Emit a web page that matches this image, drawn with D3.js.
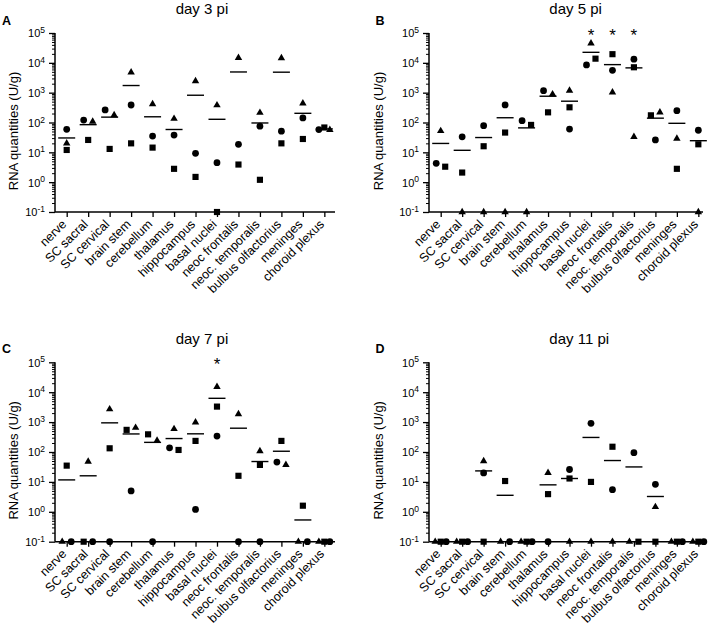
<!DOCTYPE html>
<html><head><meta charset="utf-8">
<script src="https://cdn.jsdelivr.net/npm/d3@7"></script>
<style>
body{margin:0;background:#fff}
svg{display:block}
text{font-family:"Liberation Sans", Arial, Helvetica, sans-serif; fill:#000}
</style>
</head><body>
<svg id="chart" width="710" height="632"></svg>
<script>
// ---------- data ----------
const categories = ["nerve","SC sacral","SC cervical","brain stem","cerebellum","thalamus","hippocampus","basal nuclei","neoc frontalis","neoc. temporalis","bulbus olfactorius","meninges","choroid plexus"];
const yTickExponents = [-1,0,1,2,3,4,5];

// values in U/g; 0 = below detection (drawn on the 10^-1 baseline)
const day3Circle   = [59,121,263,386,35,38,9.3,4.5,18.6,75,51,142,58];
const day3Square   = [12,26,13,20,14.4,2.8,1.5,0,3.9,1.2,20,28,68];
const day3Triangle = [20,107,178,4800,417,134,2450,380,14800,213,14500,440,57];

const day5Circle   = [4.3,33,78,387,115,1170,60,8500,5600,13200,26,250,55];
const day5Square   = [3.3,2.1,16,46,83,219,323,13800,19500,7100,174,2.8,18.6];
const day5Triangle = [52,0,0,0,0,890,1170,45200,1020,33,219,29,0];

const day7Circle   = [0,0,0,5,0,138,1.2,340,0,0,46,0,0];
const day7Square   = [35,0,133,550,390,117,235,3300,16,37,235,1.6,0];
const day7Triangle = [0,48,2700,650,240,590,980,15100,1860,107,37,0,0];

const day11Circle   = [0,0,20,0,0,0,26,910,5.5,95,8.3,0,0];
const day11Square   = [0,0,0,10.7,0,3.9,13,10,150,0,0,0,0];
const day11Triangle = [0,0,50,0,0,20,0,0,0,0,1.45,0,0];

const day3Significant  = [];
const day5Significant  = ["basal nuclei","neoc frontalis","neoc. temporalis"];
const day7Significant  = ["basal nuclei"];
const day11Significant = [];

const panelTitles  = ["day 3 pi","day 5 pi","day 7 pi","day 11 pi"];
const panelLetters = ["A","B","C","D"];
const yAxisTitle = "RNA quantities (U/g)";

// ---------- layout ----------
const svg = d3.select("#chart");
const FLOOR = 0.1;
const panels = [
  {title:panelTitles[0], letter:panelLetters[0], c:day3Circle,  s:day3Square,  t:day3Triangle,  sig:day3Significant,  x0:55,  w:280, top:33,    bottom:212,   titleX:175.7, titleY:13.5,  letterX:2,   letterY:25,  ylabX:17.5},
  {title:panelTitles[1], letter:panelLetters[1], c:day5Circle,  s:day5Square,  t:day5Triangle,  sig:day5Significant,  x0:429, w:274, top:33,    bottom:212,   titleX:549.3, titleY:13.5,  letterX:375.5, letterY:25, ylabX:382.5},
  {title:panelTitles[2], letter:panelLetters[2], c:day7Circle,  s:day7Square,  t:day7Triangle,  sig:day7Significant,  x0:55,  w:280, top:362.3, bottom:541.7, titleX:175.7, titleY:344,   letterX:2,   letterY:353, ylabX:17.5},
  {title:panelTitles[3], letter:panelLetters[3], c:day11Circle, s:day11Square, t:day11Triangle, sig:day11Significant, x0:429, w:274, top:362.3, bottom:541.7, titleX:549.3, titleY:344,   letterX:375.5, letterY:353, ylabX:382.5}
];

const symbolOf = {c:d3.symbol().type(d3.symbolCircle).size(36),
                  s:d3.symbol().type(d3.symbolSquare).size(38),
                  t:d3.symbol().type(d3.symbolTriangle).size(24)};

function drawPanel(p){
  const g = svg.append("g");
  const step = 21.47;
  const x = d3.scalePoint().domain(categories).range([p.x0+11.7, p.x0+11.7+12*step]);
  const y = d3.scaleLog().domain([FLOOR,1e5]).range([p.bottom,p.top]);

  // title + letter
  g.append("text").attr("x",p.titleX).attr("y",p.titleY).attr("font-size",15).text(p.title);
  g.append("text").attr("x",p.letterX).attr("y",p.letterY).attr("font-size",12.5).attr("font-weight","bold").text(p.letter);

  // y axis: minor ticks
  const minors = [];
  for (let k=-1;k<5;k++) for (let m=2;m<=9;m++) minors.push(m*Math.pow(10,k));
  const gMinor = g.append("g").attr("transform",`translate(${p.x0},0)`)
    .call(d3.axisLeft(y).tickValues(minors).tickSize(3).tickFormat(""));
  gMinor.select(".domain").remove();
  gMinor.selectAll("line").attr("stroke","#000").attr("stroke-width",1);

  const majors = yTickExponents.map(e=>Math.pow(10,e));
  const gMaj = g.append("g").attr("transform",`translate(${p.x0},0)`)
    .call(d3.axisLeft(y).tickValues(majors).tickSize(6).tickPadding(4).tickFormat(""));
  gMaj.select(".domain").remove();
  gMaj.selectAll("line").attr("stroke","#000").attr("stroke-width",1.3);
  gMaj.selectAll(".tick").each(function(d,i){
    const t = d3.select(this).select("text").attr("font-size",11).attr("x",-10).attr("dy","0.35em").attr("text-anchor","end").attr("fill","#000");
    t.text(null);
    t.append("tspan").text("10");
    t.append("tspan").attr("dy","-0.5em").attr("font-size",8.5).text(String(yTickExponents[i]));
  });
  g.append("line").attr("x1",p.x0).attr("x2",p.x0).attr("y1",p.top).attr("y2",p.bottom)
    .attr("stroke","#000").attr("stroke-width",1.5);

  // x axis
  const gx = g.append("g").attr("transform",`translate(0,${p.bottom})`)
    .call(d3.axisBottom(x).tickSize(5).tickPadding(2));
  gx.select(".domain").remove();
  gx.selectAll("line").attr("stroke","#000").attr("stroke-width",1.3);
  gx.selectAll("text").attr("font-size",12.5).attr("text-anchor","end")
    .attr("y",0).attr("dy",0).attr("fill","#000")
    .attr("transform","translate(0,13) rotate(-45)");
  g.append("line").attr("x1",p.x0).attr("x2",p.x0+p.w).attr("y1",p.bottom).attr("y2",p.bottom)
    .attr("stroke","#000").attr("stroke-width",1.5);

  // y label
  g.append("text").attr("transform",`translate(${p.ylabX},${p.top+98}) rotate(-90)`)
    .attr("text-anchor","middle").attr("font-size",13).text(yAxisTitle);

  // points with dodge
  categories.forEach((cat,i)=>{
    const pts = ["c","s","t"].map(k=>({k, v:p[k][i]}));
    pts.forEach(d=>{ d.py = y(Math.max(d.v,FLOOR)); d.zero = d.v<=FLOOR; });
    const sorted = pts.slice().sort((a,b)=>a.py-b.py);
    const clusters = [];
    sorted.forEach(d=>{
      const last = clusters[clusters.length-1];
      if (last && Math.abs(d.py - last[last.length-1].py) < 6.5) last.push(d); else clusters.push([d]);
    });
    clusters.forEach(cl=>{
      const order = cl[0].zero ? ["t","s","c"] : ["c","s","t"];
      cl.sort((a,b)=>order.indexOf(a.k)-order.indexOf(b.k));
      const n = cl.length;
      const st = n===2 ? 9 : 5.5;
      cl.forEach((d,j)=>{ d.dx = (j-(n-1)/2)*st; });
    });
    pts.forEach(d=>{
      g.append("path").attr("d",symbolOf[d.k]()).attr("fill","#000")
        .attr("transform",`translate(${x(cat)+d.dx},${d.py})`);
    });
    const mean = d3.mean(pts,d=>d.v);
    if (mean > FLOOR){
      g.append("line").attr("x1",x(cat)-8.5).attr("x2",x(cat)+8.5)
        .attr("y1",y(mean)).attr("y2",y(mean)).attr("stroke","#000").attr("stroke-width",1.4);
    }
  });

  // significance stars
  p.sig.forEach(cat=>{
    g.append("text").attr("x",x(cat)).attr("y",p.top+7.5).attr("text-anchor","middle")
      .attr("font-size",17).text("*");
  });
}
panels.forEach(drawPanel);
</script>
</body></html>
